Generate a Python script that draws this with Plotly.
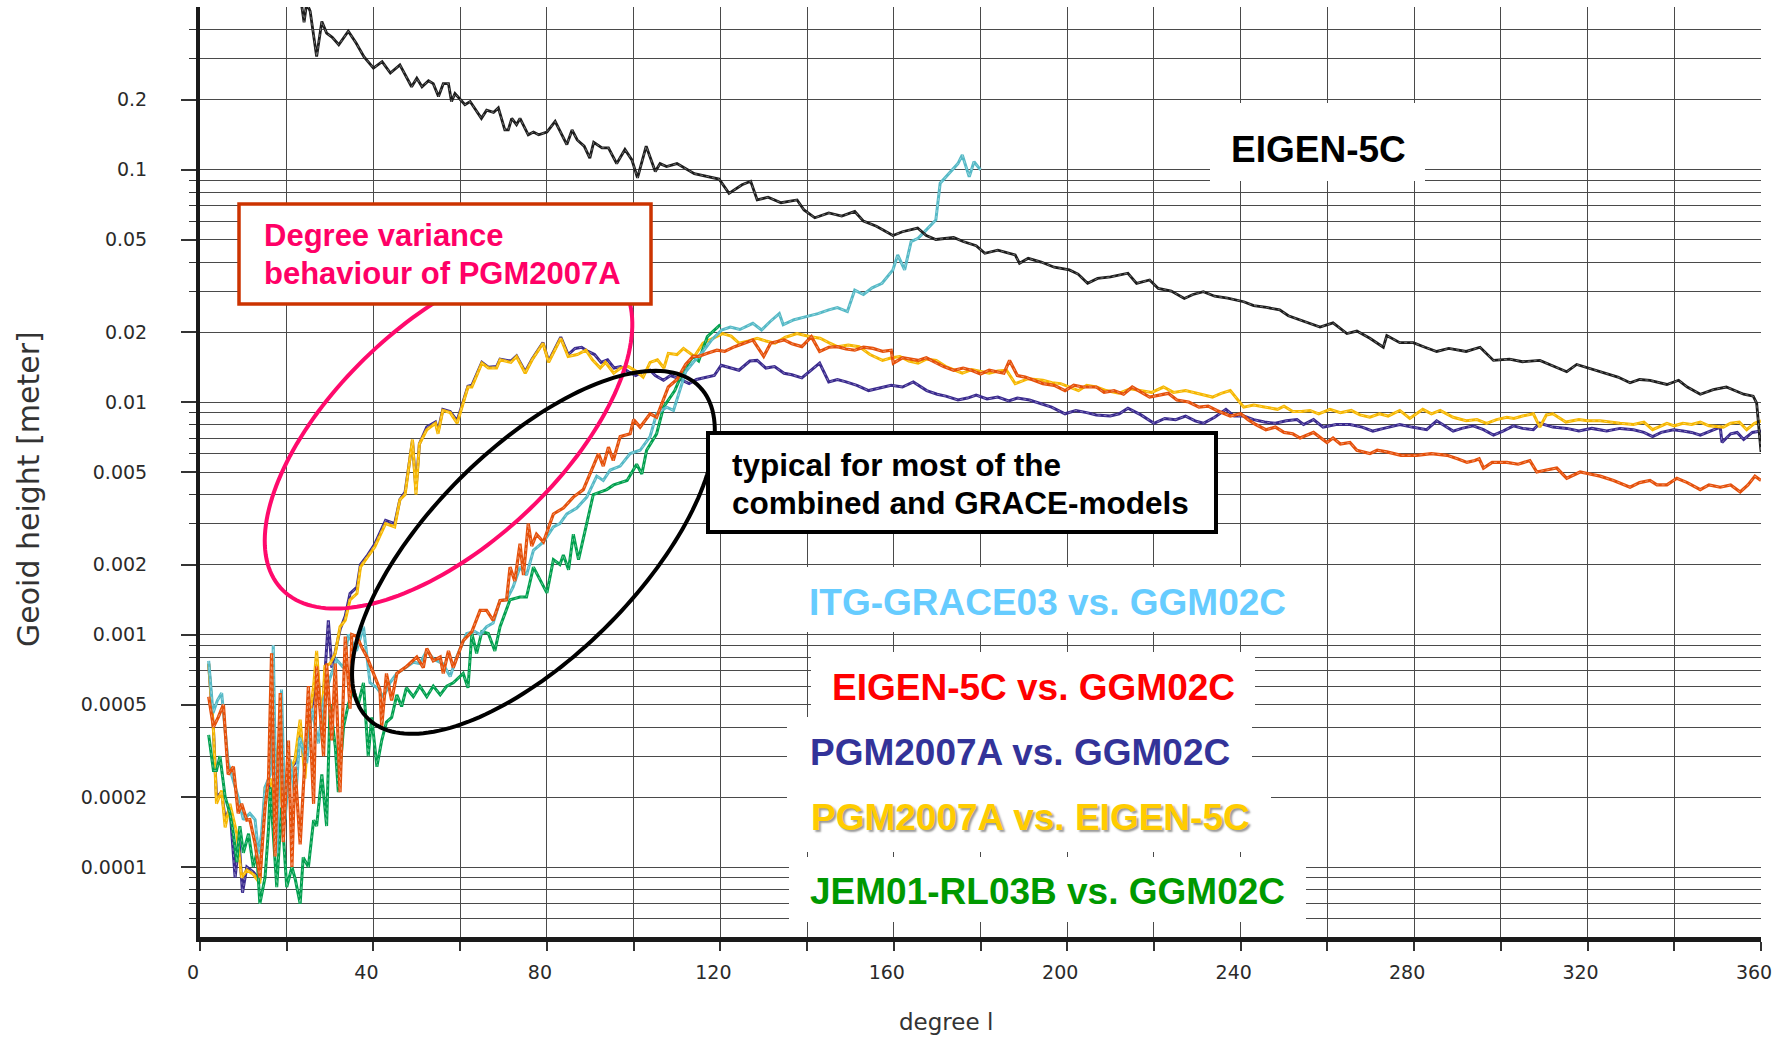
import numpy as np
import plotly.graph_objects as go

# ---------------- data (degree, geoid height in metres) ----------------
eigen5c_deg = [22, 23.5, 24, 24.6, 25.4, 26.9, 28.1, 29.2, 30.5, 32, 34.2, 36, 37.8, 40, 42, 43.9, 46.1, 48.8, 50, 51.2,
               52.7, 53.8, 55, 56.1, 57.3, 58, 58.8, 60, 61.1, 62.3, 64.9, 66.1, 67.7, 68.8, 70.3, 71.1, 71.9, 73, 73.8,
               75.7, 76.9, 78.1, 80, 81.9, 84.6, 85.8, 87, 88.6, 89.9, 90.8, 92.7, 94.2, 96.1, 98, 99.6, 100.9, 102.9,
               105, 106.1, 107.6, 110, 114, 119.7, 122, 125, 127, 128.5, 131, 134, 137.7, 139.3, 141.8, 145, 148, 151,
               153, 156, 159.8, 162, 165.5, 167.5, 169.7, 173.8, 176, 179, 181, 184, 188, 189, 191, 194, 197, 200.5,
               202.5, 204.7, 207, 210, 214, 216, 219, 221, 224, 227, 229, 231.4, 234, 237, 240.7, 243, 246, 249, 251,
               253.7, 256, 258.3, 261.3, 264.5, 266.8, 269.8, 272.9, 273.7, 276.7, 279.8, 282.5, 285.2, 288, 292,
               295.2, 298.3, 302, 305, 309, 312, 315.2, 317.5, 320.6, 324.4, 327, 329.8, 332, 334.4, 338.3, 341, 343,
               346, 349, 352, 354, 356, 358.2, 359, 360]
eigen5c_val = [0.62, 0.50, 0.43, 0.52, 0.48, 0.306, 0.433, 0.386, 0.37, 0.344, 0.393, 0.35, 0.306, 0.273, 0.291, 0.260,
               0.282, 0.227, 0.247, 0.227, 0.241, 0.234, 0.206, 0.234, 0.234, 0.196, 0.212, 0.200, 0.190, 0.196, 0.166,
               0.180, 0.176, 0.184, 0.148, 0.148, 0.166, 0.156, 0.166, 0.141, 0.145, 0.141, 0.145, 0.161, 0.128, 0.148,
               0.134, 0.126, 0.112, 0.131, 0.124, 0.124, 0.106, 0.122, 0.110, 0.092, 0.126, 0.098, 0.106, 0.103, 0.106,
               0.096, 0.091, 0.079, 0.086, 0.089, 0.074, 0.076, 0.072, 0.074, 0.067, 0.062, 0.065, 0.063, 0.066, 0.060,
               0.057, 0.052, 0.054, 0.056, 0.052, 0.050, 0.051, 0.049, 0.047, 0.0436, 0.045, 0.0429, 0.0395, 0.0415,
               0.040, 0.038, 0.037, 0.0355, 0.0324, 0.034, 0.0345, 0.0358, 0.0324, 0.0335, 0.0308, 0.030, 0.0279,
               0.029, 0.0298, 0.0285, 0.028, 0.0270, 0.026, 0.0255, 0.0249, 0.0235, 0.0225, 0.0218, 0.0210, 0.0219,
               0.0197, 0.0202, 0.0188, 0.0172, 0.0193, 0.0180, 0.0180, 0.0172, 0.0165, 0.0170, 0.0165, 0.0172, 0.0151,
               0.0153, 0.0149, 0.0151, 0.0143, 0.0135, 0.0145, 0.0139, 0.0132, 0.0128, 0.0121, 0.0125, 0.0124, 0.0119,
               0.0124, 0.0116, 0.0108, 0.0113, 0.0116, 0.0112, 0.0108, 0.0106, 0.0099, 0.0061]

itg_deg = [2, 3, 4, 5, 6.5, 7.3, 8.8, 10, 11.5, 12.7, 13.5, 14.2, 15, 16.2, 16.9, 17.7, 18.8, 19.6, 20.8, 22, 23, 24.6,
           25.8, 27.3, 28.5, 30, 31.5, 33.1, 34.2, 36.1, 37.7, 39.2, 40.8, 42.3, 43.8, 45.4, 47.7, 49.2, 50.7, 52.3, 54,
           56, 57.7, 59.2, 61.5, 63.4, 64.6, 66.1, 67.6, 69.2, 70.7, 72.2, 73.8, 75.3, 76.9, 79.2, 81.5, 83, 84.6, 86.9,
           89.2, 91.5, 93, 94.6, 96.9, 99.2, 101.5, 103.8, 105.3, 107.6, 109.2, 110.5, 112, 114, 116, 118, 120.3, 122.3,
           124.5, 127.5, 129.5, 131.5, 133.6, 134.5, 137, 139.8, 142.5, 145, 147, 149.3, 151, 153, 155, 157.3, 159.8,
           160.9, 162.5, 164, 165.6, 167.5, 169.7, 170.7, 172.7, 174.8, 175.8, 177.4, 178.5, 180]
itg_val = [0.00077, 0.00046, 0.00052, 0.00056, 0.00028, 0.00025, 0.0002, 0.00016, 0.00017, 0.00016, 0.000114, 0.000139,
           0.00022, 0.00025, 0.00090, 0.000115, 0.00058, 0.00016, 0.00029, 0.00019, 0.00036, 0.00028, 0.00048, 0.00034,
           0.00052, 0.00065, 0.00078, 0.00072, 0.00100, 0.00085, 0.00108, 0.00062, 0.00059, 0.00054, 0.00062, 0.00068,
           0.00073, 0.00076, 0.00075, 0.00085, 0.00078, 0.00075, 0.00066, 0.00080, 0.00101, 0.00103, 0.00100, 0.00108,
           0.00112, 0.00140, 0.00141, 0.00160, 0.00195, 0.00180, 0.00230, 0.00250, 0.00290, 0.00300, 0.00330, 0.00350,
           0.00390, 0.00480, 0.00460, 0.00510, 0.00530, 0.00600, 0.00620, 0.00710, 0.00890, 0.00950, 0.00920, 0.0110,
           0.0135, 0.0150, 0.0165, 0.0185, 0.0204, 0.0210, 0.0205, 0.0218, 0.0204, 0.0222, 0.0240, 0.0215, 0.0226,
           0.0233, 0.0240, 0.0249, 0.0255, 0.0245, 0.0303, 0.0290, 0.0310, 0.0324, 0.0370, 0.0429, 0.0370, 0.0490,
           0.0506, 0.0550, 0.0607, 0.0873, 0.0964, 0.1060, 0.1155, 0.0930, 0.1080, 0.0996]

e5c_ggm_deg = [2, 3.1, 4.2, 5.4, 6.5, 7.7, 8.8, 9.6, 10.8, 11.5, 12.7, 13.8, 15, 15.8, 16.5, 17.3, 18.5, 19.2, 20.4, 21.2,
               21.9, 23.1, 24.2, 25, 26.2, 26.9, 28.5, 29.2, 30.4, 31.2, 32.3, 33.5, 34.6, 35, 36.2, 37.3, 38.5, 40,
               41.5, 41.9, 43, 44.2, 45.4, 47.7, 49.2, 50, 51.5, 52.3, 53.8, 55.4, 56.1, 57.3, 58.4, 60.7, 62.7, 64.6,
               66.1, 67.6, 69.2, 70.7, 71.5, 72.6, 73.8, 74.6, 75.7, 76.5, 77.6, 79.2, 81.5, 83.8, 86.1, 88.4, 90.7,
               91.9, 93, 94.2, 95.3, 96.9, 99.2, 100, 101.5, 103.8, 105.3, 106.9, 108, 110, 112, 113.7, 115, 117, 119.2,
               121, 123.3, 125.5, 127.5, 130, 131.6, 134.7, 136.5, 138.8, 141, 142.9, 145, 147, 149, 151, 153, 155.2,
               157.5, 159.4, 159.9, 162, 165.6, 167.5, 169.7, 171.5, 173.8, 176, 177.9, 180, 182, 185.4, 186.7, 188.5,
               190.3, 192.5, 194.4, 197, 199.5, 201.5, 203.6, 206.7, 208.5, 210.8, 213, 215, 217, 219, 223.3, 225.3,
               228, 230.4, 232.5, 234.5, 237.6, 240, 241.7, 243.5, 245.8, 248, 250, 252, 253.7, 256.8, 259.9, 261.3,
               263, 265.2, 266.8, 269.8, 271.5, 273.7, 277, 280.6, 284, 287.6, 290, 292.2, 294, 295, 296, 298, 301.4,
               304, 306.7, 308.3, 310.5, 312.9, 315.2, 318.3, 320.5, 322.9, 326, 329.8, 332, 334.4, 336, 338.3, 340.6,
               343, 346, 348, 350.6, 353, 355.2, 357, 358.6, 360]
e5c_ggm_val = [0.00054, 0.00040, 0.00044, 0.00050, 0.00025, 0.00027, 0.00017, 0.000187, 0.000159, 0.00016, 0.000126,
               0.00009, 0.00018, 0.00024, 0.00083, 0.000111, 0.00056, 0.000128, 0.00035, 0.00010, 0.00027, 0.000125,
               0.00029, 0.00060, 0.000187, 0.00073, 0.00030, 0.00075, 0.00035, 0.00075, 0.00021, 0.00098, 0.00048,
               0.00100, 0.00098, 0.00088, 0.00080, 0.00068, 0.00058, 0.00040, 0.00068, 0.00052, 0.00068, 0.00073,
               0.00077, 0.00080, 0.00072, 0.00087, 0.00077, 0.00080, 0.00068, 0.00085, 0.00072, 0.00094, 0.00103,
               0.00127, 0.00127, 0.00115, 0.00140, 0.00141, 0.00195, 0.00170, 0.00246, 0.00180, 0.00300, 0.00240,
               0.00270, 0.00250, 0.00330, 0.00350, 0.00390, 0.00420, 0.00530, 0.00600, 0.00530, 0.00640, 0.00560,
               0.00710, 0.00730, 0.00840, 0.00780, 0.00890, 0.00860, 0.0102, 0.0116, 0.0125, 0.0145, 0.0157, 0.0157,
               0.0162, 0.0167, 0.0165, 0.0173, 0.0179, 0.0185, 0.0157, 0.0179, 0.0185, 0.0178, 0.0173, 0.0191, 0.0165,
               0.0172, 0.0173, 0.0169, 0.0167, 0.0172, 0.0170, 0.0165, 0.0167, 0.0147, 0.0155, 0.0151, 0.0155, 0.0147,
               0.0142, 0.0137, 0.0140, 0.0137, 0.0132, 0.0137, 0.0133, 0.0151, 0.0130, 0.0128, 0.0124, 0.0120, 0.0118,
               0.0112, 0.0118, 0.0116, 0.0116, 0.0110, 0.0112, 0.0108, 0.0116, 0.0110, 0.0105, 0.0109, 0.0102, 0.0100,
               0.0095, 0.0096, 0.0092, 0.0087, 0.0089, 0.0084, 0.0080, 0.0076, 0.0078, 0.0074, 0.0073, 0.0070, 0.0074,
               0.0067, 0.0070, 0.0066, 0.0067, 0.0062, 0.0060, 0.0062, 0.0061, 0.0059, 0.0059, 0.0060, 0.0059, 0.0057,
               0.0055, 0.0056, 0.0057, 0.0052, 0.0055, 0.0055, 0.0054, 0.0056, 0.0050, 0.0051, 0.0052, 0.0047, 0.0050,
               0.0049, 0.0048, 0.0046, 0.0043, 0.0045, 0.0046, 0.0044, 0.0044, 0.0047, 0.0045, 0.0042, 0.0044, 0.0043,
               0.0044, 0.0041, 0.0044, 0.0048, 0.0046]

pgm_e5c_deg = [2, 3.1, 3.8, 5, 5.8, 6.9, 8.5, 9.6, 10.8, 12.3, 13.8, 15, 16.2, 17.3, 18.1, 19.2, 20.4, 21.9, 23.1, 24.2,
               25, 26.2, 26.9, 28.1, 28.8, 30, 31.2, 32.3, 33.5, 34.6, 36.2, 37, 38.7, 40.3, 42.8, 44.9, 46.1, 47.3, 49,
               49.8, 50.6, 52.3, 54.3, 54.9, 56, 57.7, 59.3, 61.8, 62.7, 65, 66.5, 68.4, 69.2, 71.7, 73, 75, 76.6, 79.1,
               80.4, 83.2, 84.9, 87, 89, 90.5, 92.3, 93.5, 95.4, 97, 98.8, 100.5, 102.2, 103.8, 105.5, 107, 108, 110,
               111.5, 114, 116, 119.2, 120.5, 122.5, 124.3, 126.5, 128.5, 130.5, 132.6, 135, 137.7, 140.8, 143, 145,
               147, 149.5, 152, 154.5, 157.4, 159.5, 161.4, 163.5, 165.6, 167.5, 169.8, 172, 175.8, 178, 182, 184, 186,
               188, 191, 194.4, 196.5, 198.5, 200.5, 202.6, 204.5, 206.7, 209, 211.9, 214.5, 217, 219.5, 222.2, 224.5,
               227.3, 230.5, 233.5, 235.5, 237.6, 240.7, 243, 245.8, 248.5, 250, 252, 254, 256, 258, 260.6, 263, 265.5,
               267.5, 269.8, 272, 274, 276.7, 279, 282, 284, 286, 289, 292, 294.5, 296.7, 299, 301.4, 303, 305, 307.5,
               309, 310.5, 312, 315, 318, 320, 322.9, 325, 327.5, 330.6, 333, 335, 338.3, 340, 342, 344, 346, 348,
               351.3, 353, 355, 356.7, 358.5, 360]
pgm_e5c_val = [0.00075, 0.00039, 0.000187, 0.000213, 0.000148, 0.000187, 0.000139, 0.00009, 0.000097, 0.000093,
               0.000085, 0.00022, 0.00024, 0.000187, 0.00035, 0.00015, 0.00025, 0.00029, 0.00043, 0.00024, 0.00040,
               0.00060, 0.00085, 0.00040, 0.00073, 0.00075, 0.00083, 0.00108, 0.00115, 0.00141, 0.00150, 0.00195,
               0.00216, 0.00238, 0.0030, 0.0029, 0.0038, 0.0040, 0.0069, 0.0040, 0.0066, 0.0076, 0.0081, 0.0073, 0.0092,
               0.0090, 0.0081, 0.0116, 0.0116, 0.0147, 0.0140, 0.0140, 0.0152, 0.0148, 0.0157, 0.0133, 0.0152, 0.0179,
               0.0148, 0.0188, 0.0157, 0.0160, 0.0167, 0.0152, 0.0140, 0.0148, 0.0133, 0.0140, 0.0142, 0.0136, 0.0128,
               0.0148, 0.0152, 0.0140, 0.0162, 0.0160, 0.0170, 0.0157, 0.0179, 0.0191, 0.0197, 0.0192, 0.0179, 0.0183,
               0.0188, 0.0183, 0.0179, 0.0190, 0.0197, 0.0191, 0.0188, 0.0180, 0.0173, 0.0176, 0.0173, 0.0160, 0.0151,
               0.0155, 0.0157, 0.0150, 0.0147, 0.0153, 0.0151, 0.0142, 0.0133, 0.0138, 0.0133, 0.0136, 0.0137, 0.0120,
               0.0126, 0.0124, 0.0121, 0.0120, 0.0116, 0.0112, 0.0118, 0.0116, 0.0112, 0.0109, 0.0114, 0.0112, 0.0110,
               0.0116, 0.0110, 0.0112, 0.0108, 0.0105, 0.0109, 0.0112, 0.0095, 0.0097, 0.0095, 0.0093, 0.0096, 0.0091,
               0.0091, 0.0092, 0.0089, 0.0093, 0.0090, 0.0092, 0.0088, 0.0086, 0.0089, 0.0087, 0.0092, 0.0085, 0.0093,
               0.0089, 0.0092, 0.0086, 0.0083, 0.0084, 0.0081, 0.0084, 0.0086, 0.0085, 0.0087, 0.0089, 0.0078, 0.0088,
               0.0089, 0.0082, 0.0084, 0.0083, 0.0083, 0.0082, 0.0081, 0.0080, 0.0082, 0.0076, 0.0081, 0.0079, 0.0081,
               0.0080, 0.0082, 0.0079, 0.0078, 0.0081, 0.0082, 0.0076, 0.0081, 0.0083]

pgm_ggm_deg = [2, 3.1, 3.8, 5, 5.8, 6.9, 8.1, 9, 9.8, 10.8, 12.3, 13.8, 15, 16.2, 17.3, 18.1, 19.2, 20.4, 21.9, 23.1,
               24.2, 25, 26.2, 26.9, 28.1, 29.6, 30.4, 31.2, 32.3, 33.5, 34.6, 36.2, 37, 38.7, 40.3, 42.8, 44.9, 46.1,
               47.3, 49, 49.8, 50.6, 52.3, 54.3, 54.9, 56, 57.7, 59.3, 61.8, 62.7, 65, 66.5, 68.4, 69.2, 71.7, 73, 75,
               76.6, 79.1, 80.4, 83.2, 84.9, 86.5, 88, 89.5, 91, 92.5, 94, 95.5, 97, 98.8, 100.5, 102, 103.8, 105, 106.9,
               108.5, 110, 112.8, 114.5, 116.1, 118.6, 120.2, 122.7, 124.3, 126.8, 128.5, 130.5, 132.5, 134.7, 136.5,
               138.8, 140.5, 142.9, 145, 147, 149, 151.5, 154.2, 156.5, 159.4, 162, 164.5, 167.6, 170, 172, 174.8, 177,
               179, 181.5, 184, 186.5, 188.5, 191.3, 194, 196.4, 199.5, 202, 204.5, 206.7, 209.9, 212, 214, 217, 220,
               222.5, 225, 227.3, 229.5, 231.4, 234, 236.6, 238.5, 240.7, 243, 245.5, 248, 250.5, 253, 254.5, 256.8,
               259, 262, 265.2, 268, 270.5, 273, 276.7, 279.5, 282.9, 285.2, 287, 289, 291, 293.6, 296, 298.3, 300.5,
               302.9, 305, 307.5, 309, 312, 315.2, 318, 321, 324.4, 327.5, 330.6, 333, 335, 337, 339.8, 342, 344, 346,
               348.5, 350.6, 351, 353, 354.5, 356, 358, 360]
pgm_ggm_val = [0.00075, 0.00039, 0.00020, 0.00021, 0.00016, 0.00018, 0.000090, 0.00013, 0.0000775, 0.0001, 0.000095,
               0.000088, 0.00021, 0.00023, 0.00019, 0.00033, 0.00016, 0.00026, 0.00028, 0.00040, 0.00026, 0.00038,
               0.00055, 0.00078, 0.00042, 0.00115, 0.00072, 0.00085, 0.00105, 0.00120, 0.00150, 0.00160, 0.00200,
               0.00220, 0.00245, 0.0031, 0.0030, 0.0038, 0.0041, 0.0068, 0.0042, 0.0066, 0.0078, 0.0082, 0.0075, 0.0093,
               0.0091, 0.0083, 0.0117, 0.0118, 0.0148, 0.0141, 0.0142, 0.0153, 0.0150, 0.0158, 0.0135, 0.0153, 0.0180,
               0.0150, 0.0190, 0.0160, 0.0170, 0.0172, 0.0165, 0.0160, 0.0148, 0.0152, 0.0140, 0.0142, 0.0135, 0.0130,
               0.0135, 0.0137, 0.0130, 0.0124, 0.0130, 0.0127, 0.0120, 0.0125, 0.0127, 0.0130, 0.0144, 0.0140, 0.0137,
               0.0150, 0.0151, 0.0140, 0.0142, 0.0133, 0.0131, 0.0127, 0.0135, 0.0147, 0.0122, 0.0125, 0.0122, 0.0118,
               0.0112, 0.0115, 0.0118, 0.0116, 0.0122, 0.0112, 0.0108, 0.0106, 0.0102, 0.0104, 0.0107, 0.0103, 0.0105,
               0.0101, 0.0104, 0.0102, 0.0098, 0.0095, 0.0089, 0.0092, 0.0090, 0.0088, 0.0087, 0.0089, 0.0094, 0.0088,
               0.0081, 0.0085, 0.0084, 0.0087, 0.0083, 0.0081, 0.0086, 0.0093, 0.0087, 0.0087, 0.0084, 0.0082, 0.0081,
               0.0083, 0.0084, 0.0080, 0.0084, 0.0078, 0.0080, 0.0080, 0.0078, 0.0075, 0.0077, 0.0080, 0.0078, 0.0076,
               0.0083, 0.0079, 0.0075, 0.0077, 0.0079, 0.0076, 0.0072, 0.0075, 0.0079, 0.0077, 0.0076, 0.0081, 0.0078,
               0.0077, 0.0075, 0.0077, 0.0075, 0.0077, 0.0076, 0.0074, 0.0071, 0.0074, 0.0076, 0.0075, 0.0074, 0.0072,
               0.0075, 0.0078, 0.0067, 0.0073, 0.0074, 0.0069, 0.0074, 0.0075]

jem_deg = [2, 3.1, 3.8, 4.6, 5.8, 6.9, 7.7, 8.5, 9.2, 10, 11.2, 12.3, 13.1, 13.8, 15, 15.8, 16.2, 17.7, 18.8, 20, 21.2,
           22, 23.1, 23.8, 25, 26.2, 26.9, 28.1, 29.2, 30, 31.2, 31.9, 33.1, 34.2, 35.4, 36.5, 37.7, 38.8, 39.6, 40.8,
           41.9, 43, 44.2, 45.4, 46.5, 47.6, 49.2, 50.7, 52.3, 53.8, 55.4, 56.9, 58.4, 60.7, 61.8, 62.7, 63.8, 65,
           66.5, 68, 69.2, 71.5, 73.8, 75.3, 76.9, 78.5, 80, 81.5, 83, 83.8, 85, 86.1, 87.3, 90.7, 93.8, 95.4, 98.5,
           100.7, 101.9, 103, 105.3, 106.9, 109.5, 111.2, 113.7, 115, 117, 119.5, 120]
jem_val = [0.00037, 0.00026, 0.00026, 0.00030, 0.00020, 0.00017, 0.000139, 0.000105, 0.00015, 0.000115, 0.000139,
           0.00010, 0.000115, 0.0000695, 0.00009, 0.000146, 0.00022, 0.000082, 0.00018, 0.000082, 0.00010, 0.000088,
           0.0000695, 0.00011, 0.00010, 0.000159, 0.00015, 0.00025, 0.00015, 0.00050, 0.00033, 0.00021, 0.00040,
           0.00050, 0.00058, 0.00050, 0.00062, 0.00030, 0.00044, 0.00027, 0.00035, 0.00042, 0.00044, 0.00055, 0.00049,
           0.00059, 0.00054, 0.00060, 0.00054, 0.00060, 0.00055, 0.00060, 0.00062, 0.00068, 0.00059, 0.00101, 0.00083,
           0.00103, 0.00101, 0.00085, 0.00108, 0.00141, 0.00145, 0.00145, 0.00195, 0.00170, 0.00151, 0.0021, 0.0020,
           0.0022, 0.0019, 0.0027, 0.0021, 0.0040, 0.0042, 0.0044, 0.0046, 0.0054, 0.0049, 0.0062, 0.0073, 0.0095,
           0.0112, 0.0133, 0.0157, 0.0150, 0.0191, 0.0211, 0.0215]

y_major = [0.0001, 0.0002, 0.0005, 0.001, 0.002, 0.005, 0.01, 0.02, 0.05, 0.1, 0.2]
y_major_text = ["0.0001", "0.0002", "0.0005", "0.001", "0.002", "0.005", "0.01", "0.02", "0.05", "0.1", "0.2"]
y_minor = [m * 10.0 ** e for e in range(-5, 0) for m in range(1, 10)
           if 5e-5 <= m * 10.0 ** e <= 0.4 and m not in (1, 2, 5)]

# ---------------- geometry helpers (pixel -> paper) ----------------
W, H = 1785, 1040
L, R, T, B = 200, 1761, 7, 937


def px(x):
    return (x - L) / (R - L)


def py(y):
    return (B - y) / (B - T)


def fit_ellipse_path(pts, n=180):
    p = np.asarray(pts, float)
    m = p.mean(axis=0)
    s = p.std()
    q = (p - m) / s
    x, y = q[:, 0], q[:, 1]
    D = np.column_stack([x * x, x * y, y * y, x, y, np.ones_like(x)])
    _, _, Vt = np.linalg.svd(D)
    a, b, c, d, e, f = Vt[-1]
    x0, y0 = np.linalg.solve([[2 * a, b], [b, 2 * c]], [-d, -e])
    f0 = a * x0 * x0 + b * x0 * y0 + c * y0 * y0 + d * x0 + e * y0 + f
    M = np.array([[a, b / 2], [b / 2, c]])
    ev, evec = np.linalg.eigh(M)
    ax = np.sqrt(-f0 / ev)
    t = np.linspace(0, 2 * np.pi, n)
    xy = (np.array([x0, y0])[:, None] + evec[:, [0]] * ax[0] * np.cos(t) + evec[:, [1]] * ax[1] * np.sin(t))
    xy = xy * s + m[:, None]
    return "M " + " L ".join(f"{px(u):.5f},{py(v):.5f}" for u, v in zip(xy[0], xy[1])) + " Z"


pink_pts = [(428.6, 300), (400, 327), (333, 400), (287, 470), (273, 500), (264, 547), (265, 565), (271, 583),
            (280, 595), (325, 610), (378.6, 600), (400, 589), (468, 553), (521, 520), (557, 487), (593, 440),
            (611, 400), (625, 320), (627, 300)]
black_pts = [(353.3, 670), (356.7, 700), (373.3, 723), (413.3, 735), (460, 727), (533, 687), (596, 633),
             (666.7, 556.7), (707, 477), (715, 430), (713, 413), (653.6, 372), (628.6, 373), (593, 387), (560, 400),
             (521, 427), (466.7, 473), (450, 487), (400, 551), (371.4, 593), (362, 637), (353.6, 655)]

# ---------------- figure ----------------
fig = go.Figure()

series = [
    (pgm_ggm_deg, pgm_ggm_val, "#3A2A8E", 3.0),
    (pgm_e5c_deg, pgm_e5c_val, "#F6B700", 3.0),
    (jem_deg, jem_val, "#00A04E", 3.0),
    (itg_deg, itg_val, "#55B9C6", 3.0),
    (e5c_ggm_deg, e5c_ggm_val, "#E5500A", 3.2),
    (eigen5c_deg, eigen5c_val, "#1C1C1C", 2.8),
]
for xd, yd, col, w in series:
    fig.add_trace(go.Scatter(x=xd, y=yd, mode="lines", line=dict(color=col, width=w),
                             hoverinfo="skip", showlegend=False))
    fig.add_trace(go.Scatter(x=xd, y=yd, mode="lines", line=dict(color="white", width=0.7, dash="dot"),
                             opacity=0.55, hoverinfo="skip", showlegend=False))

shapes = []
# white backgrounds of the series labels (hide the grid behind the text)
label_boxes = [(1210, 103, 1425, 181), (790, 567, 1300, 632), (811, 652, 1255, 717), (787, 717, 1252, 782),
               (787, 782, 1271, 852), (789, 857, 1306, 922)]
for x0, y0, x1, y1 in label_boxes:
    shapes.append(dict(type="rect", xref="paper", yref="paper", x0=px(x0), x1=px(x1), y0=py(y1), y1=py(y0),
                       fillcolor="white", line=dict(width=0), layer="above"))

# ellipses (drawn above curves)
shapes.append(dict(type="path", xref="paper", yref="paper", path=fit_ellipse_path(pink_pts),
                   line=dict(color="#FF0A6C", width=4), layer="above"))
shapes.append(dict(type="path", xref="paper", yref="paper", path=fit_ellipse_path(black_pts),
                   line=dict(color="black", width=4), layer="above"))

# framed comment boxes
shapes.append(dict(type="rect", xref="paper", yref="paper", x0=px(239), x1=px(651), y0=py(304), y1=py(204),
                   fillcolor="white", line=dict(color="#CC3300", width=3.5), layer="above"))
shapes.append(dict(type="rect", xref="paper", yref="paper", x0=px(708), x1=px(1216), y0=py(532), y1=py(433),
                   fillcolor="white", line=dict(color="black", width=4), layer="above"))

annotations = []
bold = "Liberation Sans"


def ann(text, x, y, size, color, xanchor="center", shadow=None, family=bold, angle=0):
    font = dict(family=family, size=size, color=color)
    if shadow:
        font["shadow"] = shadow
    annotations.append(dict(text=text, x=px(x), y=py(y), xref="paper", yref="paper", showarrow=False,
                            xanchor=xanchor, yanchor="middle", font=font, textangle=angle))


ann("<b>Degree variance</b>", 262, 236, 31, "#FF0066", xanchor="left")
ann("<b>behaviour of PGM2007A</b>", 262, 273, 31, "#FF0066", xanchor="left")
ann("<b>typical for most of the</b>", 730, 465, 31.5, "black", xanchor="left")
ann("<b>combined and GRACE-models</b>", 730, 503, 31.5, "black", xanchor="left")
ann("<b>EIGEN-5C</b>", 1318, 149, 37, "black")
ann("<b>ITG-GRACE03 vs. GGM02C</b>", 1047, 602, 37, "#66CCFF")
ann("<b>EIGEN-5C vs. GGM02C</b>", 1033, 687, 37, "#FF0000")
ann("<b>PGM2007A vs. GGM02C</b>", 1020, 752, 37, "#333399")
ann("<b>PGM2007A vs. EIGEN-5C</b>", 1030, 817, 37, "#FFCC00", shadow="2px 2px 2px #9a9a9a")
ann("<b>JEM01-RL03B vs. GGM02C</b>", 1047, 891, 37, "#009900")
ann("Geoid height [meter]", 28, 489, 30, "#333333", family="DejaVu Sans", angle=-90)
ann("degree l", 946, 1022, 23, "#333333", family="DejaVu Sans")

grid_col = "#4a4a4a"
fig.update_layout(
    width=W, height=H,
    margin=dict(l=L, r=W - R, t=T, b=H - B, pad=0),
    paper_bgcolor="white", plot_bgcolor="white",
    showlegend=False, hovermode=False,
    shapes=shapes, annotations=annotations,
    xaxis=dict(range=[0, 360], tickmode="array", tickvals=list(range(0, 361, 40)),
               ticktext=[str(v) for v in range(0, 361, 40)],
               showgrid=True, gridcolor=grid_col, gridwidth=1.1,
               ticks="outside", ticklen=9, tickwidth=1.5, tickcolor="#333",
               minor=dict(tickmode="array", tickvals=list(range(20, 361, 40)), showgrid=True,
                          gridcolor=grid_col, gridwidth=1.1, ticks="outside", ticklen=9, tickwidth=1.5,
                          tickcolor="#333"),
               showline=True, linecolor="#1a1a1a", linewidth=5, zeroline=False,
               tickfont=dict(family="DejaVu Sans", size=19, color="#2a2a2a"),
               ticklabelstandoff=5, ticklabelshift=-7),
    yaxis=dict(type="log", range=[np.log10(5e-5), np.log10(0.5)], tickmode="array",
               tickvals=y_major, ticktext=y_major_text,
               showgrid=True, gridcolor=grid_col, gridwidth=1.1,
               ticks="outside", ticklen=15, tickwidth=1.5, tickcolor="#333",
               minor=dict(tickmode="array", tickvals=y_minor, showgrid=True, gridcolor=grid_col, gridwidth=1.1,
                          ticks="outside", ticklen=7, tickwidth=1.3, tickcolor="#333"),
               showline=True, linecolor="#1a1a1a", linewidth=4, zeroline=False,
               tickfont=dict(family="DejaVu Sans", size=19, color="#2a2a2a"), ticklabelstandoff=30),
)

fig.write_html("out.html")
